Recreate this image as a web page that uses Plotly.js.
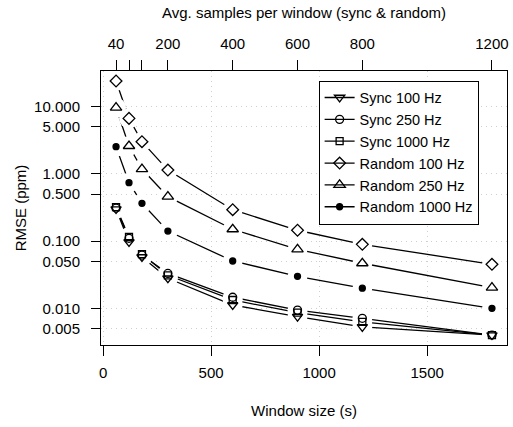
<!DOCTYPE html>
<html>
<head>
<meta charset="utf-8">
<script src="https://cdn.plot.ly/plotly-3.0.1.min.js"></script>
<style>
html,body{margin:0;padding:0;background:#fff;}
#chart{width:513px;height:427px;}
</style>
</head>
<body>
<div id="chart"></div>
<script>
// Data
const windowSize = [60, 120, 180, 300, 600, 900, 1200, 1800];
const samplesPerWindow = [40, 80, 120, 200, 400, 600, 800, 1200];
const topTickShown = [true, false, false, true, true, true, true, true];

const sync100   = [0.30, 0.097, 0.058, 0.028, 0.0112, 0.0075, 0.0053, 0.0040];
const sync250   = [0.31, 0.110, 0.062, 0.033, 0.0146, 0.0094, 0.0071, 0.0040];
const sync1000  = [0.32, 0.115, 0.064, 0.031, 0.0133, 0.0086, 0.0063, 0.0040];
const random100 = [24.1, 6.7, 3.01, 1.14, 0.293, 0.145, 0.0895, 0.0452];
const random250 = [9.67, 2.60, 1.18, 0.458, 0.150, 0.0755, 0.0468, 0.0203];
const random1000= [2.54, 0.740, 0.365, 0.141, 0.0506, 0.0299, 0.0199, 0.0100];

const seriesNames = ["Sync 100 Hz","Sync 250 Hz","Sync 1000 Hz","Random 100 Hz","Random 250 Hz","Random 1000 Hz"];
const seriesValues = [sync100, sync250, sync1000, random100, random250, random1000];
const seriesSymbols = ["triangle-down-open","circle-open","square-open","diamond-open","triangle-up-open","circle"];
const seriesSizes = [9, 8, 7, 9, 10, 6];

const yTickVals = [0.005, 0.01, 0.05, 0.1, 0.5, 1, 5, 10];
const yTickText = ["0.005","0.010","0.050","0.100","0.500","1.000","5.000","10.000"];
const xTickVals = [0, 500, 1000, 1500];

const FONT = "Liberation Sans, Arial, sans-serif";
const traces = [];
// lines (legend entries)
seriesNames.forEach((n, i) => {
  traces.push({
    x: windowSize, y: seriesValues[i], name: n, type: 'scatter', mode: 'lines+markers',
    line: {color: 'black', width: 1.3},
    marker: {symbol: seriesSymbols[i], size: seriesSizes[i], color: 'black', line: {color: 'black', width: 1.3}},
    xaxis: 'x', yaxis: 'y'
  });
});
// white masks to create gaps around points (like R type="b")
seriesNames.forEach((n, i) => {
  traces.push({
    x: windowSize, y: seriesValues[i], type: 'scatter', mode: 'markers', showlegend: false, hoverinfo: 'skip',
    marker: {symbol: 'circle', size: 20, color: 'white', opacity: 1, line: {width: 0}},
    xaxis: 'x', yaxis: 'y'
  });
});
// markers on top
seriesNames.forEach((n, i) => {
  traces.push({
    x: windowSize, y: seriesValues[i], type: 'scatter', mode: 'markers', showlegend: false,
    marker: {symbol: seriesSymbols[i], size: seriesSizes[i], color: 'black', line: {color: 'black', width: 1.3}},
    xaxis: 'x', yaxis: 'y'
  });
});
// invisible trace for top axis
traces.push({x: windowSize, y: sync100, type: 'scatter', mode: 'markers', showlegend: false, hoverinfo: 'skip',
  marker: {opacity: 0}, xaxis: 'x2', yaxis: 'y'});

const xr = [-9.6, 1869.6];
const GRID = '#cfcfcf';
const layout = {
  width: 513, height: 427,
  margin: {l: 101, r: 6, t: 71, b: 82},
  paper_bgcolor: 'white', plot_bgcolor: 'white',
  font: {family: FONT, size: 15, color: 'black'},
  showlegend: true,
  xaxis: {
    range: xr, tickvals: xTickVals, ticktext: xTickVals.map(String),
    ticks: 'outside', ticklen: 10, tickwidth: 1, tickcolor: 'black',
    showline: true, linecolor: 'black', linewidth: 1, mirror: true,
    showgrid: true, gridcolor: GRID, griddash: '1px,4px', gridwidth: 1,
    zeroline: false, ticklabelstandoff: 4,
    title: {text: 'Window size (s)', font: {size: 15}, standoff: 25}
  },
  xaxis2: {
    overlaying: 'x', side: 'top', range: xr,
    tickvals: windowSize, ticktext: samplesPerWindow.map((s, i) => topTickShown[i] ? String(s) : ''),
    ticks: 'outside', ticklen: 10, tickwidth: 1, tickcolor: 'black',
    showline: false, showgrid: false, zeroline: false, ticklabelstandoff: 5,
    title: {text: 'Avg. samples per window (sync & random)', font: {size: 15}, standoff: 12}
  },
  yaxis: {
    type: 'log', range: [-2.546, 1.531],
    tickvals: yTickVals, ticktext: yTickText,
    ticks: 'outside', ticklen: 9, tickwidth: 1, tickcolor: 'black',
    showline: true, linecolor: 'black', linewidth: 1, mirror: true,
    showgrid: true, gridcolor: GRID, griddash: '1px,4px', gridwidth: 1,
    zeroline: false, ticklabelstandoff: 8,
    title: {text: 'RMSE (ppm)', font: {size: 15}, standoff: 3}
  },
  legend: {
    x: 0.536, y: 0.965, xanchor: 'left', yanchor: 'top',
    bgcolor: 'white', bordercolor: 'black', borderwidth: 1,
    font: {family: FONT, size: 14.5, color: 'black'},
    tracegroupgap: 0
  }
};

Plotly.newPlot('chart', traces, layout, {displayModeBar: false, staticPlot: true});
</script>
</body>
</html>
